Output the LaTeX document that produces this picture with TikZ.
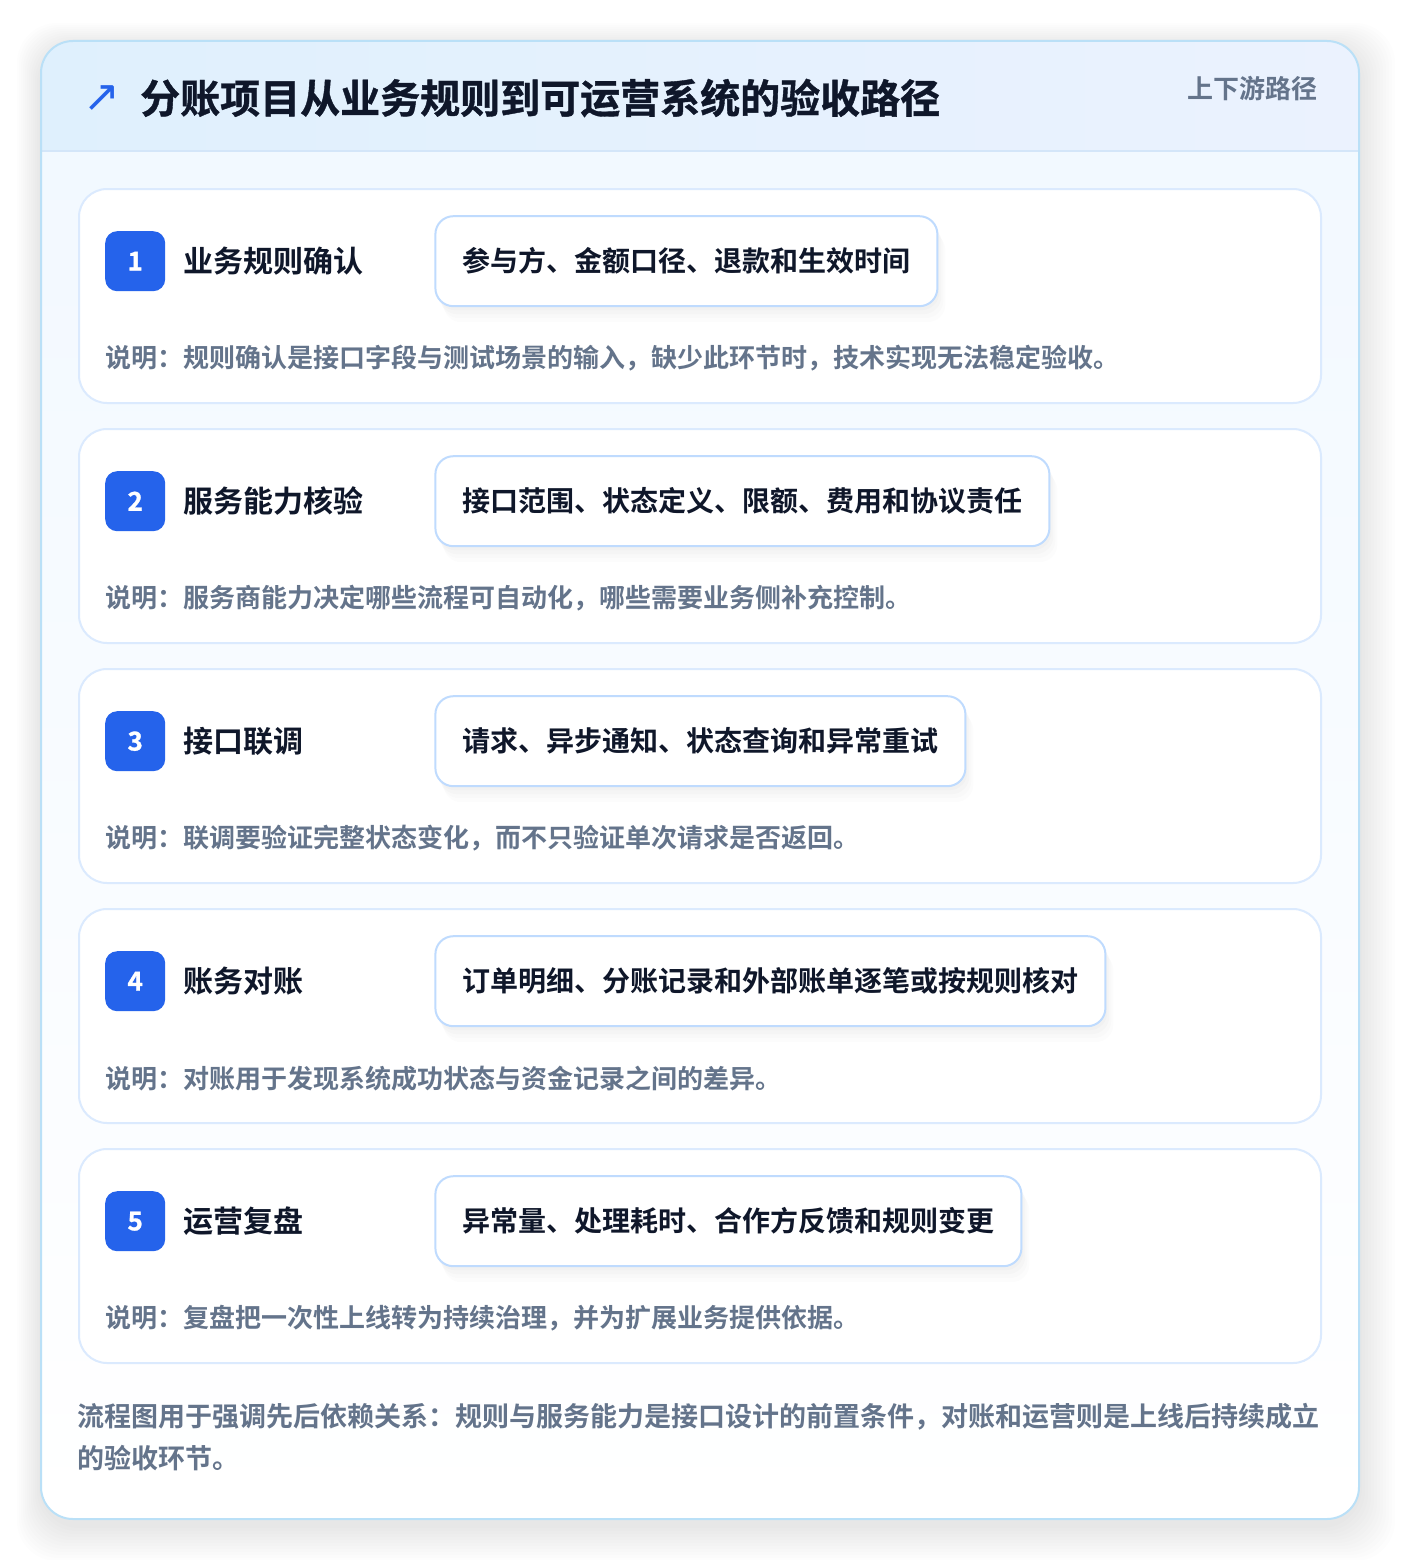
\documentclass[tikz,border=0pt]{standalone}
\usepackage{fontspec}
\setmainfont{Noto Sans CJK SC}[BoldFont={Noto Sans CJK SC Bold}]
\newfontfamily\heavyfont{Noto Sans CJK SC Bold}[FakeBold=1]
\newfontfamily\symfont{DejaVu Sans}
\usetikzlibrary{positioning,calc,shadows}

\definecolor{badgeblue}{HTML}{2563EB}
\definecolor{titleink}{HTML}{0F172A}
\definecolor{noteink}{HTML}{64748B}
\definecolor{pillline}{HTML}{BFDBFE}
\definecolor{cardline}{HTML}{DBEAFE}
\definecolor{frameline}{HTML}{BAE0F7}
\definecolor{headleft}{HTML}{DFF0FD}
\definecolor{headright}{HTML}{EBF2FE}
\definecolor{headline}{HTML}{D4E6F9}
\definecolor{bodytop}{HTML}{F1F8FF}

\tikzstyle{card} = [rectangle, rounded corners=28pt,
minimum width=1242pt,
minimum height=214pt,
draw=cardline, line width=2pt,
fill=white]
\tikzstyle{badge} = [rectangle, rounded corners=12pt, minimum size=60pt, inner sep=0pt,
fill=badgeblue, text=white, font=\heavyfont\fontsize{26pt}{26pt}\selectfont]
\tikzstyle{steptitle} = [inner sep=0pt, text=titleink, font=\fontsize{30pt}{30pt}\selectfont\bfseries]
\tikzstyle{detail} = [rectangle, rounded corners=18pt, minimum height=90pt, inner xsep=27pt,
draw=pillline, line width=2pt, fill=white, text=titleink,
font=\fontsize{28pt}{28pt}\selectfont\bfseries,
drop shadow={shadow xshift=2pt, shadow yshift=-4pt, opacity=0.015, fill=black},
drop shadow={shadow xshift=4pt, shadow yshift=-8pt, opacity=0.015, fill=black},
drop shadow={shadow xshift=6pt, shadow yshift=-12pt, opacity=0.012, fill=black},
drop shadow={shadow xshift=8pt, shadow yshift=-16pt, opacity=0.010, fill=black}]
\tikzstyle{note} = [inner sep=0pt, anchor=west, text=noteink, font=\fontsize{26pt}{26pt}\selectfont\bfseries]
\tikzstyle{footnote} = [inner sep=0pt, anchor=west, align=left, text=noteink, font=\fontsize{27pt}{42pt}\selectfont\bfseries]

\begin{document}
\begin{tikzpicture}[x=1pt, y=-1pt]

\useasboundingbox (0,0) rectangle (1400,1560);
\fill[white] (0,0) rectangle (1400,1560);

% Soft shadow round the frame
\foreach \s in {1,...,12}
  \fill[black, opacity=0.006, rounded corners=40pt] ($(41,47)+(-2*\s,-2*\s)$) rectangle ($(1359,1525)+(3*\s,3*\s)$);

% Frame, body and header band
\shade[top color=bodytop, bottom color=white, rounded corners=32pt] (41,41) rectangle (1359,1519);
\begin{scope}
\clip[rounded corners=32pt] (41,41) rectangle (1359,1519);
\shade[left color=headleft, right color=headright] (41,41) rectangle (1359,151);
\draw[headline, line width=2pt] (41,151) -- (1359,151);
\end{scope}
\draw[frameline, line width=2pt, rounded corners=32pt] (41,41) rectangle (1359,1519);

% Header texts
\node (Icon) [text=badgeblue, inner sep=0pt, font=\symfont\fontsize{44pt}{44pt}\selectfont] at (102,99) {↗};
\node (Title) [anchor=west, inner sep=0pt, text=titleink, font=\heavyfont\fontsize{40pt}{40pt}\selectfont] at (140,98) {分账项目从业务规则到可运营系统的验收路径};
\node (Tag) [anchor=east, inner sep=0pt, text=noteink, font=\fontsize{26pt}{26pt}\selectfont\bfseries] at (1318,89) {上下游路径};

% Step cards
\node (Card_1) [card] at (700,296) {};
\node (Card_2) [card, below=24pt of Card_1] {};
\node (Card_3) [card, below=24pt of Card_2] {};
\node (Card_4) [card, below=24pt of Card_3] {};
\node (Card_5) [card, below=24pt of Card_4] {};

% Step 1
\node[badge, below right=43pt and 27pt of Card_1.north west] (Badge_1) {1};
\node[steptitle, right=18pt of Badge_1] (Step_1) {业务规则确认};
\node[detail, right=269pt of Badge_1] (Detail_1) {参与方、金额口径、退款和生效时间};
\node[note] (Note_1) at ($(Badge_1.west)+(0,97)$) {说明：规则确认是接口字段与测试场景的输入，缺少此环节时，技术实现无法稳定验收。};

% Step 2
\node[badge, below right=43pt and 27pt of Card_2.north west] (Badge_2) {2};
\node[steptitle, right=18pt of Badge_2] (Step_2) {服务能力核验};
\node[detail, right=269pt of Badge_2] (Detail_2) {接口范围、状态定义、限额、费用和协议责任};
\node[note] (Note_2) at ($(Badge_2.west)+(0,97)$) {说明：服务商能力决定哪些流程可自动化，哪些需要业务侧补充控制。};

% Step 3
\node[badge, below right=43pt and 27pt of Card_3.north west] (Badge_3) {3};
\node[steptitle, right=18pt of Badge_3] (Step_3) {接口联调};
\node[detail, right=269pt of Badge_3] (Detail_3) {请求、异步通知、状态查询和异常重试};
\node[note] (Note_3) at ($(Badge_3.west)+(0,97)$) {说明：联调要验证完整状态变化，而不只验证单次请求是否返回。};

% Step 4
\node[badge, below right=43pt and 27pt of Card_4.north west] (Badge_4) {4};
\node[steptitle, right=18pt of Badge_4] (Step_4) {账务对账};
\node[detail, right=269pt of Badge_4] (Detail_4) {订单明细、分账记录和外部账单逐笔或按规则核对};
\node[note] (Note_4) at ($(Badge_4.west)+(0,97)$) {说明：对账用于发现系统成功状态与资金记录之间的差异。};

% Step 5
\node[badge, below right=43pt and 27pt of Card_5.north west] (Badge_5) {5};
\node[steptitle, right=18pt of Badge_5] (Step_5) {运营复盘};
\node[detail, right=269pt of Badge_5] (Detail_5) {异常量、处理耗时、合作方反馈和规则变更};
\node[note] (Note_5) at ($(Badge_5.west)+(0,97)$) {说明：复盘把一次性上线转为持续治理，并为扩展业务提供依据。};

% Closing remark
\node[footnote] (Footer) at ($(Card_5.south west)+(-1,73)$) {流程图用于强调先后依赖关系：规则与服务能力是接口设计的前置条件，对账和运营则是上线后持续成立\\的验收环节。};

\end{tikzpicture}
\end{document}
